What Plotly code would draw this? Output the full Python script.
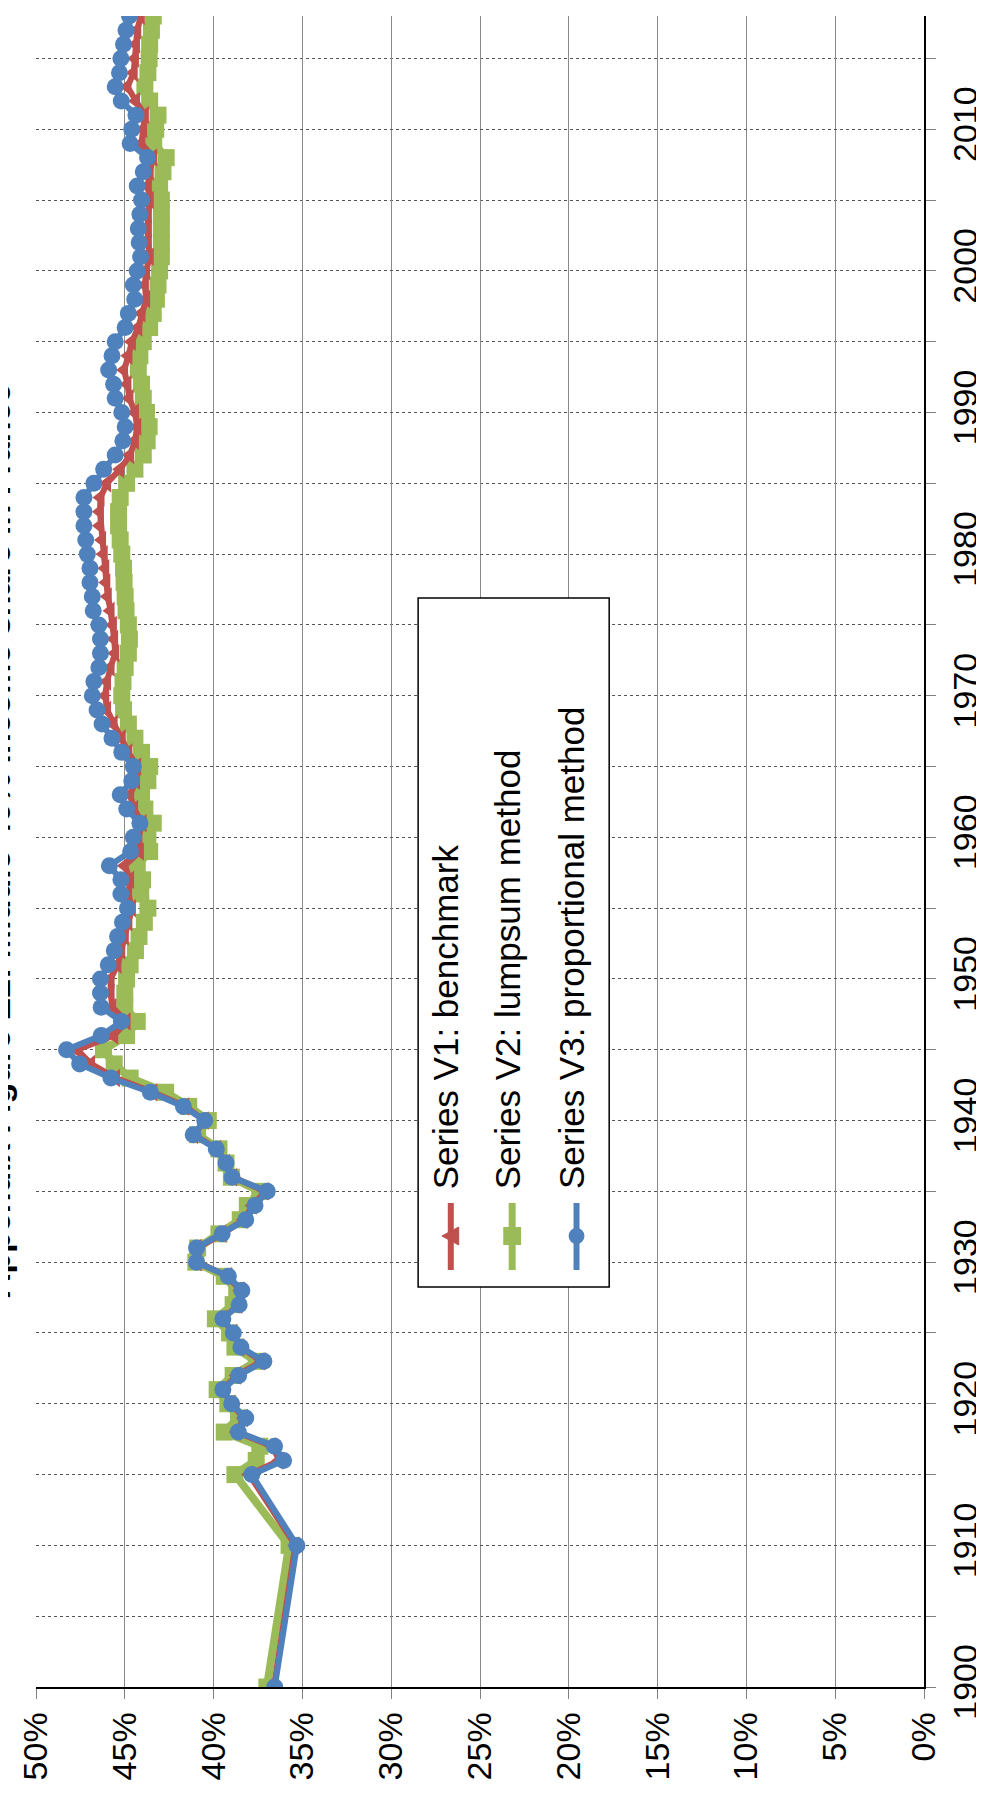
import plotly.graph_objects as go

# ---------------- data ----------------
years = [1900, 1910] + list(range(1915, 2019))

v1_benchmark = [
    36.60, 35.40,
    38.00, 36.30, 36.70, 38.70, 38.30, 39.00, 39.50, 38.70, 37.30, 38.50,
    38.90, 39.50, 38.60, 38.50, 39.20, 40.90, 40.90, 39.50, 38.30, 37.80,
    37.10, 38.90, 39.30, 39.80, 41.10, 40.50, 41.60, 43.40, 45.50, 46.90,
    47.67, 45.60, 44.90, 45.70, 45.80, 45.80, 45.40, 45.20, 45.00, 44.80,
    44.60, 44.80, 44.70, 45.00, 44.15,
    44.24, 44.00, 44.48, 44.70, 44.37, 44.30, 44.80, 45.17, 45.63, 46.00,
    46.10, 46.00, 45.80, 45.54, 45.60, 45.67, 45.80, 45.96, 46.04, 46.10,
    46.19, 46.28, 46.40, 46.40, 46.37, 46.00, 45.26, 44.70, 44.43, 44.30,
    44.43, 44.74, 44.85, 45.04, 44.80, 44.60, 44.24, 44.06, 43.80, 43.87,
    43.80, 43.60, 43.70, 43.70, 43.70, 43.60, 43.70, 43.60, 43.40, 44.06,
    43.96, 43.87, 44.37, 44.85, 44.50, 44.43, 44.37, 44.30, 44.10,
]

v2_lumpsum = [
    37.00, 35.75,
    38.80, 37.60, 37.40, 39.40, 38.60, 39.20, 39.80, 38.90, 37.60, 38.80,
    39.10, 39.90, 38.90, 38.70, 39.40, 41.00, 40.90, 39.70, 38.50, 38.10,
    37.40, 39.00, 39.30, 39.70, 40.90, 40.30, 41.40, 42.70, 44.70, 45.60,
    46.20, 44.90, 44.30, 45.00, 45.00, 44.90, 44.70, 44.40, 44.20, 43.90,
    43.70, 44.10, 44.00, 44.30, 43.60,
    43.70, 43.40, 43.87, 44.06, 43.70, 43.60, 44.06, 44.43, 44.80, 45.07,
    45.17, 45.10, 44.98, 44.80, 44.74, 44.80, 44.93, 44.98, 45.04, 45.07,
    45.17, 45.26, 45.35, 45.35, 45.26, 44.90, 44.43, 43.96, 43.74, 43.63,
    43.78, 43.96, 44.06, 44.24, 44.15, 43.96, 43.60, 43.40, 43.22, 43.13,
    43.04, 42.94, 42.94, 42.94, 42.94, 42.94, 43.04, 42.85, 42.67, 43.37,
    43.26, 43.13, 43.60, 43.87, 43.70, 43.63, 43.60, 43.50, 43.40,
]

v3_proportional = [
    36.56, 35.31,
    37.85, 36.06, 36.57, 38.61, 38.19, 38.98, 39.48, 38.59, 37.17, 38.46,
    38.89, 39.48, 38.56, 38.41, 39.17, 40.96, 40.96, 39.52, 38.19, 37.67,
    36.98, 38.96, 39.30, 39.85, 41.15, 40.50, 41.70, 43.56, 45.78, 47.54,
    48.28, 46.33, 45.19, 46.33, 46.37, 46.37, 45.93, 45.59, 45.41, 45.13,
    44.85, 45.22, 45.22, 45.87, 44.67,
    44.52, 44.15, 44.89, 45.26, 44.61, 44.52, 45.17, 45.72, 46.28, 46.56,
    46.83, 46.74, 46.46, 46.37, 46.37, 46.46, 46.78, 46.83, 46.96, 46.96,
    47.11, 47.20, 47.30, 47.30, 47.30, 46.74, 46.19, 45.54, 45.11, 44.98,
    45.17, 45.54, 45.63, 45.91, 45.72, 45.54, 44.98, 44.80, 44.44, 44.52,
    44.30, 44.11, 44.19, 44.24, 44.15, 44.06, 44.30, 43.96, 43.72, 44.70,
    44.61, 44.37, 45.20, 45.54, 45.30, 45.22, 45.07, 44.93, 44.74,
]

series_names = ["Series V1: benchmark", "Series V2: lumpsum method",
                "Series V3: proportional method"]
share_ticks = [0, 5, 10, 15, 20, 25, 30, 35, 40, 45, 50]
year_ticks = [1900, 1910, 1920, 1930, 1940, 1950, 1960, 1970, 1980, 1990, 2000, 2010]
title_text = "Appendix Figure E2: Middle 40% income share in France"

# ---------------- style ----------------
RED = "#C0504D"
GREEN = "#9BBB59"
BLUE = "#4F81BD"
FONT = "Liberation Sans, Arial, sans-serif"

W, H = 984, 1798
L, R, T, B = 25, 62, 8, 119
PW, PH = W - L - R, H - T - B


def px(x):
    return (x - L) / PW


def py(y):
    return (H - B - y) / PH


fig = go.Figure()

fig.add_trace(go.Scatter(
    x=v2_lumpsum, y=years, mode="lines+markers", name=series_names[1],
    line=dict(color=GREEN, width=8),
    marker=dict(symbol="square", size=17, color=GREEN, line=dict(width=0)),
    showlegend=False))
fig.add_trace(go.Scatter(
    x=v1_benchmark, y=years, mode="lines+markers", name=series_names[0],
    line=dict(color=RED, width=6),
    marker=dict(symbol="triangle-left", size=16, color=RED, line=dict(width=0)),
    showlegend=False))
fig.add_trace(go.Scatter(
    x=v3_proportional, y=years, mode="lines+markers", name=series_names[2],
    line=dict(color=BLUE, width=6),
    marker=dict(symbol="circle", size=17, color=BLUE, line=dict(width=0)),
    showlegend=False))

# ---------------- custom rotated legend ----------------
shapes = [dict(type="rect", xref="paper", yref="paper",
               x0=px(411), x1=px(604), y0=py(1279), y1=py(590),
               line=dict(color="black", width=1.5), fillcolor="white", layer="above")]
annotations = []
leg_x = [444, 506, 571]
leg_col = [RED, GREEN, BLUE]
for i, (lx, col) in enumerate(zip(leg_x, leg_col)):
    shapes.append(dict(type="line", xref="paper", yref="paper",
                       x0=px(lx), x1=px(lx), y0=py(1262), y1=py(1195),
                       line=dict(color=col, width=7 if i == 1 else 6)))
    cy = 1228
    if i == 0:
        path = "M {a},{b} L {c},{d} L {c},{e} Z".format(
            a=px(lx - 9), b=py(cy), c=px(lx + 8), d=py(cy - 9), e=py(cy + 9))
        shapes.append(dict(type="path", xref="paper", yref="paper", path=path,
                           fillcolor=col, line=dict(color=col, width=1)))
    elif i == 1:
        shapes.append(dict(type="rect", xref="paper", yref="paper",
                           x0=px(lx - 9), x1=px(lx + 9), y0=py(cy + 9), y1=py(cy - 9),
                           fillcolor=col, line=dict(color=col, width=0)))
    else:
        shapes.append(dict(type="circle", xref="paper", yref="paper",
                           x0=px(lx - 8), x1=px(lx + 8), y0=py(cy + 8), y1=py(cy - 8),
                           fillcolor=col, line=dict(color=col, width=0)))
    annotations.append(dict(
        text=series_names[i], xref="paper", yref="paper",
        x=px(lx - 5), y=py(1183), xanchor="center", yanchor="bottom",
        textangle=-90, showarrow=False,
        font=dict(family=FONT, size=35, color="black")))

annotations.append(dict(
    text="<b>" + title_text + "</b>", xref="paper", yref="paper",
    x=px(8), y=py(1292), xanchor="right", yanchor="bottom",
    textangle=-90, showarrow=False,
    font=dict(family=FONT, size=34, color="black")))

fig.update_layout(
    width=W, height=H,
    margin=dict(l=L, r=R, t=T, b=B, pad=0),
    paper_bgcolor="white", plot_bgcolor="white",
    font=dict(family=FONT, size=34, color="black"),
    showlegend=False,
    shapes=shapes, annotations=annotations,
    xaxis=dict(
        range=[50, 0], tickvals=share_ticks,
        ticktext=[f"{v}%" for v in share_ticks],
        tickangle=-90, ticks="outside", ticklen=10, tickcolor="#808080",
        showgrid=True, gridcolor="#8a8a8a", gridwidth=1,
        showline=True, linecolor="black", linewidth=1.5,
        zeroline=False, tickfont=dict(size=34), fixedrange=True),
    yaxis=dict(
        range=[1900, 2018], side="right", tickvals=year_ticks,
        tickangle=-90, ticks="outside", ticklen=10, tickcolor="#808080",
        showgrid=True, gridcolor="#555555", griddash="dot", gridwidth=1,
        minor=dict(dtick=5, tick0=1900, showgrid=True, gridcolor="#555555",
                   griddash="dot", ticks="outside", ticklen=10, tickcolor="#808080"),
        showline=True, linecolor="black", linewidth=1.5,
        zeroline=False, tickfont=dict(size=34), fixedrange=True),
)

fig.write_html("out.html")
